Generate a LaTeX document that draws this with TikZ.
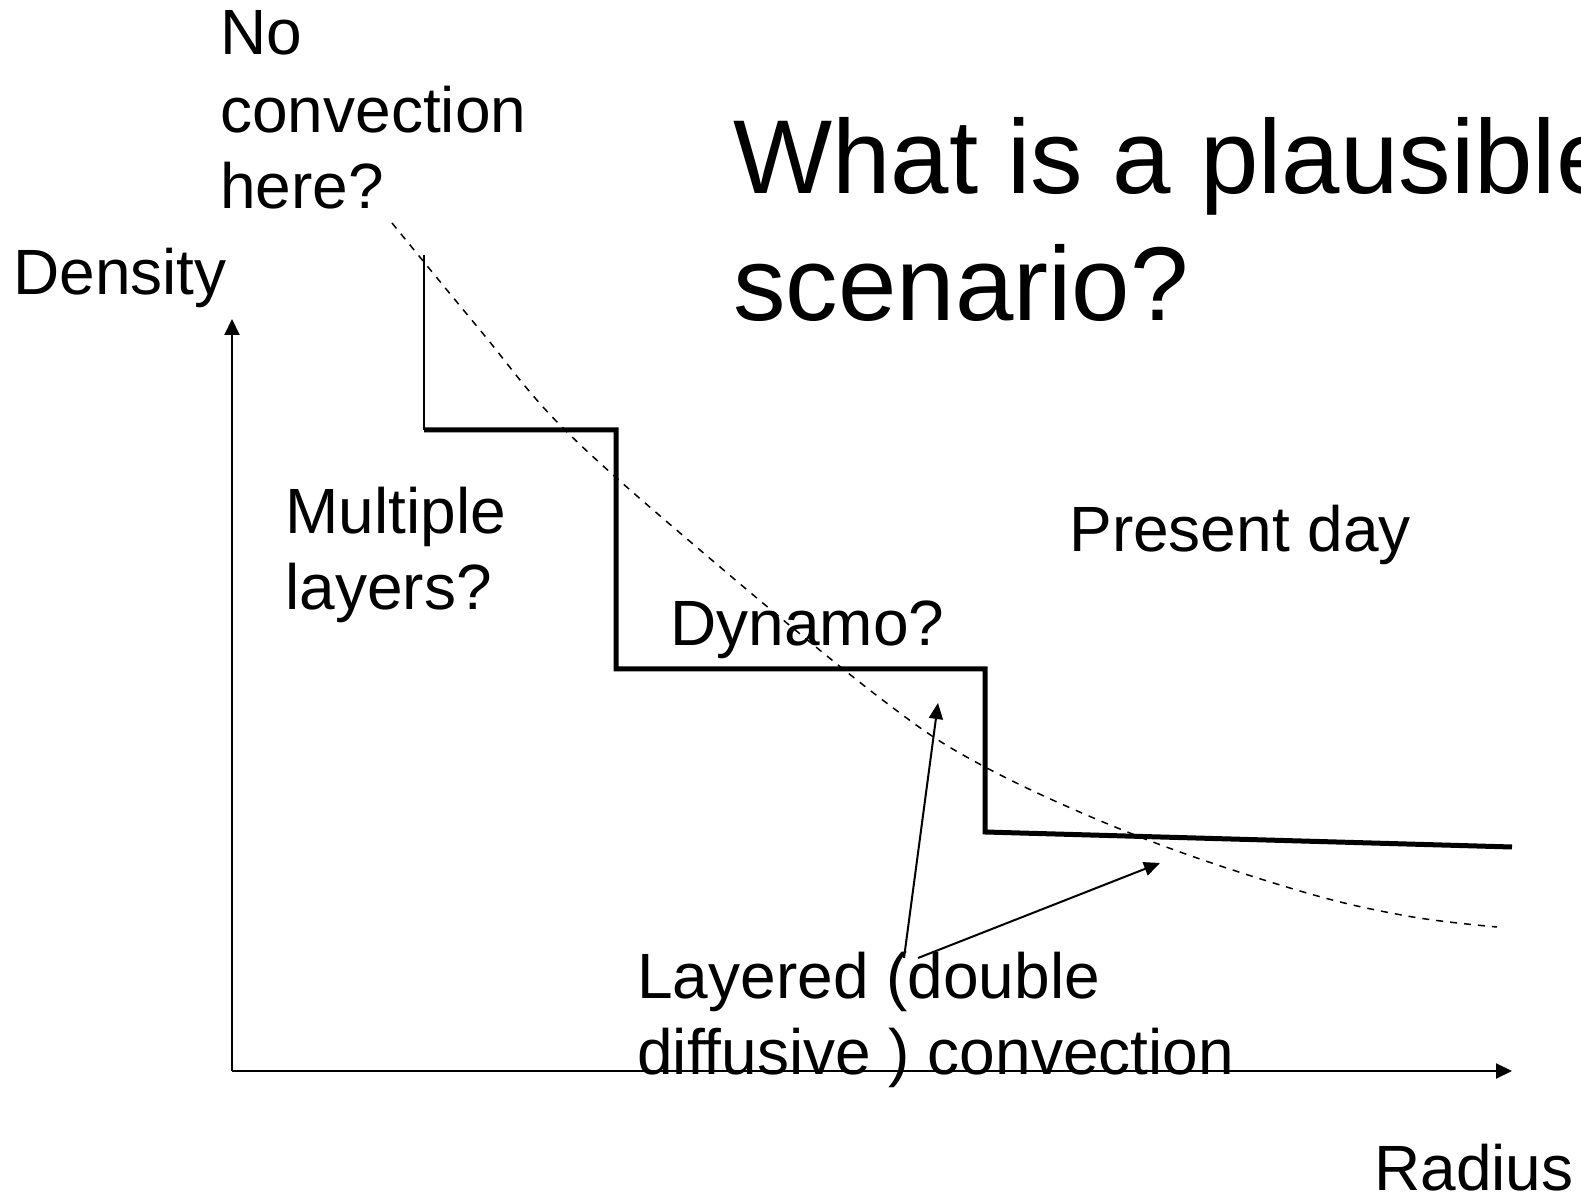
\documentclass[tikz,border=0pt]{standalone}
\usepackage{fontspec}
\setmainfont{Liberation Sans}
\usetikzlibrary{arrows.meta}
\begin{document}
\begin{tikzpicture}[x=0.5pt,y=-0.5pt,
  lbl/.style={anchor=base west,inner sep=0pt,font=\fontsize{32}{38}\selectfont},
  ttl/.style={anchor=base west,inner sep=0pt,font=\fontsize{52.5}{64}\selectfont},
  axis/.style={line width=1pt,-{Triangle[length=8pt,width=7.5pt]}},
  pointer/.style={line width=1pt,-{Triangle[length=8pt,width=7pt]}},
  profile/.style={line width=2.5pt,line join=miter},
  thinstep/.style={line width=1pt},
  guess/.style={line width=0.75pt,dash pattern=on 3.5pt off 3.5pt}]
\clip (0,0) rectangle (1581,1197);
\fill[white] (0,0) rectangle (1581,1197);

% axes
\coordinate (origin) at (232,1071);
\coordinate (ytip) at (232,319);
\coordinate (xtip) at (1512,1071);
\draw[axis] (origin) -- (ytip);
\draw[axis] (origin) -- (xtip);

% step profile
\coordinate (s0) at (424,255);
\coordinate (s1) at (424,430);
\coordinate (s2) at (616,430);
\coordinate (s3) at (616,669);
\coordinate (s4) at (985,669);
\coordinate (s5) at (985,832);
\coordinate (s6) at (1512,847);
\draw[thinstep] (s0) -- (s1);
\draw[profile] (s1) -- (s2) -- (s3) -- (s4) -- (s5) -- (s6);

% dashed smooth profile
\draw[guess] plot[smooth,tension=0.6] coordinates {(392,223) (480,330) (563,428) (700,550) (880,698) (985,767) (1140,837) (1300,891) (1407,916) (1497,927)};

% labels
\node[ttl] (t1) at (733,194) {What is a plausible};
\node[ttl] (t2) at (733,321) {scenario?};
\node[lbl] (no1) at (220,55) {No};
\node[lbl] (no2) at (220,133) {convection};
\node[lbl] (no3) at (220,209) {here?};
\node[lbl] (dens) at (13,295) {Density};
\node[lbl] (ml1) at (285,534) {Multiple};
\node[lbl] (ml2) at (285,610) {layers?};
\node[lbl] (dyn) at (670,646) {Dynamo?};
\node[lbl] (pres) at (1069,552) {Present day};
\node[lbl] (lay1) at (637,998) {Layered (double};
\node[lbl] (lay2) at (637,1074) {diffusive ) convection};
\node[lbl] (rad) at (1374,1190) {Radius};

% pointers
\coordinate (p1s) at (904,958);
\coordinate (p1e) at (938,703);
\coordinate (p2s) at (918,958);
\coordinate (p2e) at (1160,863);
\draw[pointer] (p1s) -- (p1e);
\draw[pointer] (p2s) -- (p2e);
\end{tikzpicture}
\end{document}
